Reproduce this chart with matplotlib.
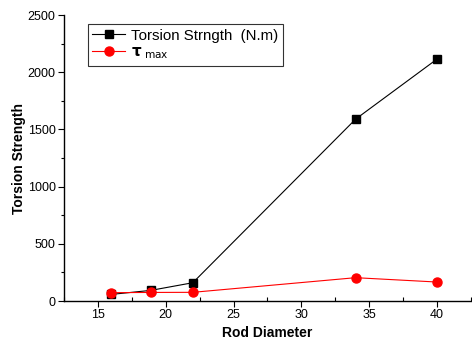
import numpy as np
import matplotlib
matplotlib.use("Agg")
import matplotlib.pyplot as plt
from matplotlib.ticker import MultipleLocator

plt.rcParams["font.family"] = ["Liberation Sans", "DejaVu Sans"]

# data
diameter = [16, 18.9, 22, 34, 40]
torsion_strength = [58, 93, 160, 1590, 2115]
tau_max = [73, 75, 76, 204, 166]

fig = plt.figure(figsize=(4.72, 3.43), dpi=100)
ax = fig.add_axes([0.1356, 0.1224, 0.862, 0.8336])

ax.plot(diameter, torsion_strength, color="black", lw=0.8, marker="s",
        markersize=5.5, label="Torsion Strngth  (N.m)")
ax.plot(diameter, tau_max, color="red", lw=0.8, marker="o",
        markersize=6.5, label=r"$\mathbf{\tau}_{\ \mathrm{max}}$")

ax.set_xlim(12.5, 42.5)
ax.set_ylim(0, 2500)
ax.xaxis.set_major_locator(MultipleLocator(5))
ax.xaxis.set_minor_locator(MultipleLocator(2.5))
ax.yaxis.set_major_locator(MultipleLocator(500))
ax.yaxis.set_minor_locator(MultipleLocator(250))

ax.spines["top"].set_visible(False)
ax.spines["right"].set_visible(False)
for s in ("left", "bottom"):
    ax.spines[s].set_linewidth(1.0)

ax.tick_params(axis="both", which="major", direction="out", length=4,
               width=0.8, labelsize=9, pad=2)
ax.tick_params(axis="x", which="minor", direction="in", length=3, width=0.8)
ax.tick_params(axis="y", which="minor", direction="out", length=2.5, width=0.8)

ax.set_xlabel("Rod Diameter", fontsize=10, fontweight="bold", labelpad=3)
ax.set_ylabel("Torsion Strength", fontsize=10, fontweight="bold", labelpad=1.5)

leg = ax.legend(loc="upper left", bbox_to_anchor=(0.04, 0.995), fontsize=10.8,
                frameon=True, fancybox=False, edgecolor="black",
                handlelength=2.2, handletextpad=0.4, borderpad=0.3,
                labelspacing=0.2)
leg.get_frame().set_linewidth(0.8)

fig.savefig("out.png", dpi=100)
